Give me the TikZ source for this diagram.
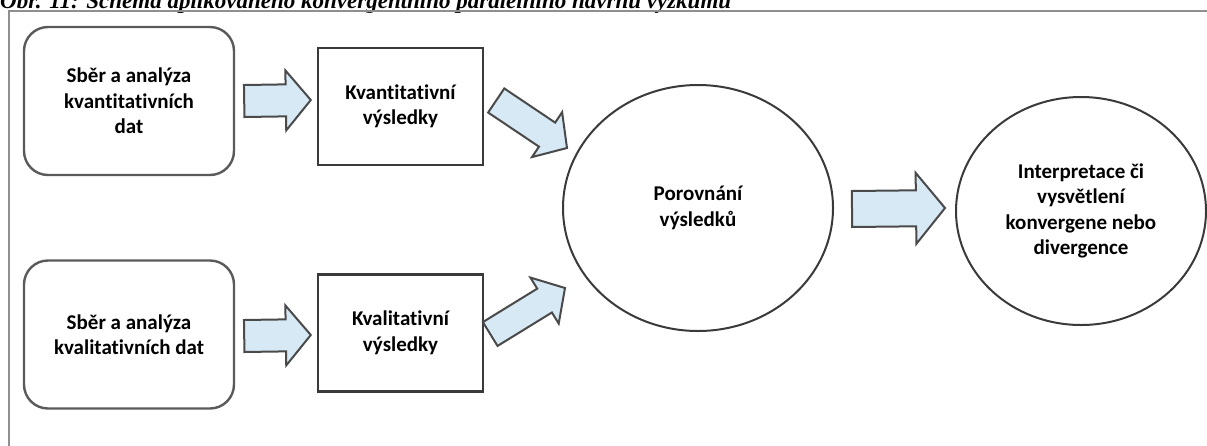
\documentclass[tikz,border=0pt]{standalone}
\usepackage{fontspec}
\setmainfont{Carlito}[Ligatures=NoCommon]
\newfontfamily\captionfont{Liberation Serif}
\usetikzlibrary{shapes.geometric,calc}

\definecolor{arrowfill}{HTML}{D6E9F5}
\definecolor{arrowline}{HTML}{4A4A4A}
\definecolor{boxline}{HTML}{3A3A3A}
\definecolor{roundline}{HTML}{5A5A5A}
\definecolor{frameline}{HTML}{8F8F8F}

% block arrow from #1 to #2: half shaft width #3, half head width #4, head length #5
\newcommand\blockarr[5]{%
  \coordinate (ba-s) at #1;
  \coordinate (ba-t) at #2;
  \coordinate (ba-h) at ($(ba-t)!#5!(ba-s)$);
  \draw[flowarrow]
    ($(ba-s)!#3!90:(ba-t)$) -- ($(ba-h)!#3!-90:(ba-s)$) --
    ($(ba-h)!#4!-90:(ba-s)$) -- (ba-t) --
    ($(ba-h)!#4!90:(ba-s)$) -- ($(ba-h)!#3!90:(ba-s)$) --
    ($(ba-s)!#3!-90:(ba-t)$) -- cycle;
}

\begin{document}
\begin{tikzpicture}[x=1pt,y=-1pt,
  every node/.style={font=\fontsize{21}{25.5}\selectfont\bfseries, align=center, text=black},
  source/.style={draw=roundline, line width=2.4pt, rounded corners=24pt,
    minimum width=210pt, minimum height=148pt, inner sep=0pt},
  result/.style={draw=boxline, line width=2.4pt,
    minimum width=165pt, minimum height=117pt, inner sep=0pt},
  oval/.style={draw=boxline, line width=2pt, ellipse, inner sep=0pt},
  flowarrow/.style={draw=arrowline, fill=arrowfill, line width=2pt, line join=miter}]

\useasboundingbox (0,0) rectangle (1207,445);
\begin{scope}
\clip (0,0) rectangle (1207,445);

% caption above the frame (its upper part lies beyond the page edge)
\node[anchor=base west, inner sep=0pt,
      font=\captionfont\fontsize{23}{27}\selectfont\bfseries\itshape] (caption) at (0,8)
  {Obr. 11: Schéma aplikovaného konvergentního paralelního návrhu výzkumu};

% frame
\draw[frameline, line width=2pt] (9,446) -- (9,11) -- (1208,11);

% nodes
\node[source] (src1) at (129,101) {Sběr a analýza\\kvantitativních\\dat};
\node[source] (src2) at (129,334.5) {Sběr a analýza\\kvalitativních dat};
\node[result] (res1) at (400.5,106.5) {Kvantitativní\\výsledky};
\node[result] (res2) at (400.5,333) {Kvalitativní\\výsledky};
\node[oval, minimum width=270pt, minimum height=246pt] (cmp) at (698,208)
  {Porovnání\\výsledků};
\node[oval, minimum width=250pt, minimum height=228pt] (intp) at (1081,211)
  {Interpretace či\\vysvětlení\\konvergene nebo\\divergence};

% connectors
\blockarr{($(src1.east)+(9,0)$)}{($(src1.east -| res1.west)+(-6,-1)$)}{16pt}{30pt}{25pt}
\blockarr{($(src2.east)+(9,1.5)$)}{($(src2.east -| res2.west)+(-6,0.5)$)}{16pt}{30pt}{25pt}
\blockarr{($(res1.east)+(12,-6)$)}{($(cmp.center)+(-131,-60)$)}{14.5pt}{27pt}{24pt}
\blockarr{($(res2.east)+(6,1)$)}{($(cmp.center)+(-133,80)$)}{14pt}{27pt}{24pt}
\blockarr{($(cmp.east)+(18,1)$)}{($(cmp.east -| intp.west)+(-10,0)$)}{18pt}{35.5pt}{29pt}
\end{scope}
\end{tikzpicture}
\end{document}
